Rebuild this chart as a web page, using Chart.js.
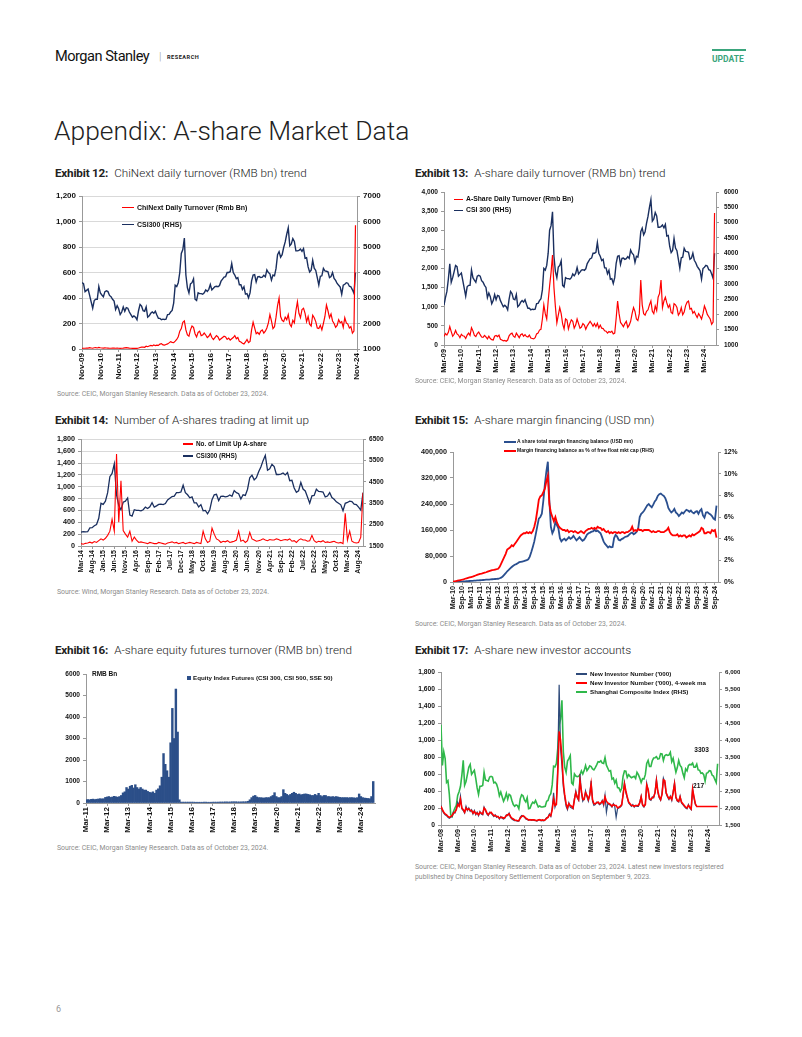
<!DOCTYPE html>
<html><head><meta charset="utf-8">
<script src="https://cdn.jsdelivr.net/npm/chart.js@4.4.1/dist/chart.umd.min.js"></script>
<style>
body{margin:0;background:#fff;width:802px;height:1037px;position:relative;overflow:hidden;font-family:Roboto,'Liberation Sans',sans-serif;}
.t{position:absolute;white-space:nowrap;line-height:1;}
canvas{position:absolute;}
.ex{font-size:11.7px;color:#222;}
.ex b{font-weight:700;letter-spacing:-0.2px;}
.ex span{font-weight:300;margin-left:6px;}
.src{font-size:6.9px;color:#8c8c8c;font-weight:400;}
.lg{position:absolute;white-space:nowrap;font-family:'Liberation Sans',Arial,sans-serif;font-weight:bold;color:#111;display:flex;align-items:center;line-height:1;}
.lg i{display:inline-block;margin-right:3px;}
</style></head>
<body>
<div class="t" style="left:55px;top:49px;font-size:14.6px;color:#111;letter-spacing:-0.5px;">Morgan Stanley</div>
<div class="t" style="left:159px;top:51px;font-size:11px;color:#999;font-weight:300;">|</div>
<div class="t" style="left:167px;top:55px;font-size:5.6px;color:#222;font-weight:700;letter-spacing:0.5px;">RESEARCH</div>
<div style="position:absolute;left:712px;top:49px;width:34px;height:2px;background:#3aa57c;"></div>
<div class="t" style="left:712px;top:55px;font-size:8.5px;color:#3aa57c;font-weight:700;">UPDATE</div>
<div class="t" style="left:54px;top:118px;font-size:26.4px;color:#222;font-weight:300;">Appendix: A-share Market Data</div>

<div class="t ex" style="left:55px;top:168px;"><b>Exhibit 12:</b><span>ChiNext daily turnover (RMB bn) trend</span></div>
<div class="t ex" style="left:415px;top:168px;"><b>Exhibit 13:</b><span>A-share daily turnover (RMB bn) trend</span></div>
<div class="t ex" style="left:55px;top:415px;"><b>Exhibit 14:</b><span>Number of A-shares trading at limit up</span></div>
<div class="t ex" style="left:415px;top:415px;"><b>Exhibit 15:</b><span>A-share margin financing (USD mn)</span></div>
<div class="t ex" style="left:55px;top:645px;"><b>Exhibit 16:</b><span>A-share equity futures turnover (RMB bn) trend</span></div>
<div class="t ex" style="left:415px;top:645px;"><b>Exhibit 17:</b><span>A-share new investor accounts</span></div>

<canvas id="c12" width="340" height="200" style="left:50px;top:185px;"></canvas>
<canvas id="c13" width="330" height="200" style="left:410px;top:183px;"></canvas>
<canvas id="c14" width="340" height="150" style="left:50px;top:432px;"></canvas>
<canvas id="c15" width="330" height="180" style="left:410px;top:436px;"></canvas>
<canvas id="c16" width="340" height="175" style="left:50px;top:665px;"></canvas>
<canvas id="c17" width="330" height="200" style="left:410px;top:662px;"></canvas>

<div class="lg" style="left:122px;top:204px;font-size:7px;"><i style="width:12px;height:1.5px;background:#ff0000"></i>ChiNext Daily Turnover (Rmb Bn)</div>
<div class="lg" style="left:122px;top:221px;font-size:7px;"><i style="width:12px;height:1.5px;background:#1a2f5f"></i>CSI300 (RHS)</div>
<div class="lg" style="left:454px;top:196px;font-size:6.8px;"><i style="width:9px;height:1.5px;background:#ff0000"></i>A-Share Daily Turnover (Rmb Bn)</div>
<div class="lg" style="left:454px;top:207px;font-size:6.8px;"><i style="width:9px;height:1.5px;background:#1a2f5f"></i>CSI 300 (RHS)</div>
<div class="lg" style="left:183px;top:441px;font-size:6.4px;"><i style="width:10px;height:1.5px;background:#ff0000"></i>No. of Limit Up A-share</div>
<div class="lg" style="left:183px;top:453px;font-size:6.4px;"><i style="width:10px;height:1.5px;background:#1a2f5f"></i>CSI300 (RHS)</div>
<div class="lg" style="left:504px;top:439px;font-size:5px;"><i style="width:12px;height:2px;background:#2a4f8f;margin-right:1px"></i>A share total margin financing balance (USD mn)</div>
<div class="lg" style="left:504px;top:448px;font-size:5px;"><i style="width:12px;height:2px;background:#ff0000;margin-right:1px"></i>Margin financing balance as % of free float mkt cap (RHS)</div>
<div class="t" style="left:92px;top:671px;font-size:6.5px;font-weight:bold;font-family:'Liberation Sans',Arial,sans-serif;color:#111;">RMB Bn</div>
<div class="lg" style="left:187px;top:675px;font-size:6.2px;"><i style="width:4px;height:4px;background:#2c4f89;margin-right:2px"></i>Equity Index Futures (CSI 300, CSI 500, SSE 50)</div>
<div class="lg" style="left:576px;top:671px;font-size:6.2px;"><i style="width:11px;height:1.5px;background:#2e4a7a"></i>New Investor Number ('000)</div>
<div class="lg" style="left:576px;top:680px;font-size:6.2px;"><i style="width:11px;height:2px;background:#ff0000"></i>New Investor Number ('000), 4-week ma</div>
<div class="lg" style="left:576px;top:689px;font-size:6.2px;"><i style="width:11px;height:2px;background:#2fb84a"></i>Shanghai Composite Index (RHS)</div>

<div class="t src" style="left:57px;top:391px;">Source: CEIC, Morgan Stanley Research. Data as of October 23, 2024.</div>
<div class="t src" style="left:415px;top:378px;">Source: CEIC, Morgan Stanley Research. Data as of October 23, 2024.</div>
<div class="t src" style="left:57px;top:589px;">Source: Wind, Morgan Stanley Research. Data as of October 23, 2024.</div>
<div class="t src" style="left:415px;top:621px;">Source: CEIC, Morgan Stanley Research. Data as of October 23, 2024.</div>
<div class="t src" style="left:57px;top:845px;">Source: CEIC, Morgan Stanley Research. Data as of October 23, 2024.</div>
<div class="t src" style="left:415px;top:862px;line-height:1.45;">Source: CEIC, Morgan Stanley Research. Data as of October 23, 2024. Latest new investors registered<br>published by China Depository Settlement Corporation on September 9, 2023.</div>
<div class="t" style="left:56px;top:1005px;font-size:9px;color:#999;">6</div>

<script>
// ---------- DATA ----------
// CSI300 monthly, from Mar-09 to Oct-24
const csi300Start = 'Mar-09';
const csi300 = [
2300,2550,2750,3150,3650,3050,3200,3400,3600,3560,
3250,3300,3350,3100,2850,2600,2900,2950,2950,3450,3200,3120,
3050,3250,3280,3250,3100,3050,2950,2880,2550,2700,2580,2350,
2450,2650,2480,2620,2600,2450,2350,2250,2300,2250,2150,2500,
2750,2680,2500,2480,2650,2250,2300,2400,2450,2400,2480,2330,
2200,2200,2150,2170,2160,2170,2350,2360,2450,2510,2800,3500,
3450,3600,4000,4750,4900,5350,3900,3400,3200,3550,3600,3750,
2950,2900,3200,3170,3170,3150,3200,3320,3260,3340,3530,3320,
3380,3450,3460,3440,3490,3660,3740,3820,3840,4000,4000,4030,
4350,4000,3900,3760,3800,3520,3520,3330,3440,3150,3170,3010,
3200,3670,3900,3920,3630,3830,3840,3800,3820,3890,3830,4100,
4000,3950,3700,3900,3870,4160,4700,4820,4600,4700,4980,5200,
5500,5750,5050,5120,5330,5220,4850,4850,4870,4920,4830,4940,
4560,4580,4220,4020,4090,4480,4170,4080,3800,3510,3850,3870,
4160,4060,4050,4030,3800,3840,4000,3770,3690,3570,3500,3430,
3150,3500,3540,3600,3580,3460,3440,3320,3180,4000];

// Exhibit 12: ChiNext daily turnover (Rmb bn), monthly from Nov-09
const chinextStart = 'Nov-09';
const chinextTurnover = [
5,6,
6,8,7,10,8,6,10,11,8,13,10,8,
7,9,8,7,6,6,7,8,6,7,6,5,
6,7,9,10,9,7,6,5,6,5,5,8,
12,15,14,13,22,18,24,28,24,32,26,30,
28,38,42,32,30,35,40,48,58,52,50,62,
75,95,140,160,210,220,150,110,100,150,180,170,
120,95,130,140,105,110,125,110,90,100,120,90,
75,90,105,95,70,80,90,100,95,75,85,70,
80,90,105,80,90,60,55,45,40,55,75,50,
60,150,210,165,120,130,115,140,150,125,140,165,
205,270,220,160,175,250,340,400,255,225,215,250,
230,270,195,175,225,205,300,370,280,245,310,320,
280,215,255,195,180,265,245,215,165,160,185,150,
200,255,345,300,245,275,220,200,170,185,230,205,
215,170,245,205,195,165,175,125,140,970];
const ex12Ticks = ['Nov-09','Nov-10','Nov-11','Nov-12','Nov-13','Nov-14','Nov-15','Nov-16','Nov-17','Nov-18','Nov-19','Nov-20','Nov-21','Nov-22','Nov-23','Nov-24'];

// Exhibit 13: A-share daily turnover (Rmb bn), monthly from Mar-09
const ashareStart = 'Mar-09';
const ashareTurnover = [
220,300,260,330,480,350,230,280,380,290,
260,190,280,240,230,170,260,310,250,450,370,250,
220,300,340,270,210,200,250,210,160,230,170,140,
130,230,250,220,260,150,130,110,120,100,130,240,
290,310,230,200,310,250,190,270,290,230,270,220,
210,260,180,170,160,190,290,310,390,410,680,1050,
820,680,1150,1550,1900,2350,1500,1000,580,780,980,820,
550,420,680,650,420,560,660,620,440,520,680,560,
440,470,560,520,410,500,560,620,560,490,560,480,
570,440,520,440,430,370,360,310,350,330,360,290,
310,700,1150,820,590,540,480,560,620,460,520,620,
820,980,880,680,640,820,1700,1050,820,780,880,920,
1050,1150,880,820,1020,900,1250,1350,1700,980,1150,1250,
1100,980,1050,850,820,1080,1050,980,780,840,980,790,
860,1030,1120,1150,940,960,830,880,790,720,820,760,
680,820,1020,920,800,740,680,540,600,3450];
const ex13Ticks = ['Mar-09','Mar-10','Mar-11','Mar-12','Mar-13','Mar-14','Mar-15','Mar-16','Mar-17','Mar-18','Mar-19','Mar-20','Mar-21','Mar-22','Mar-23','Mar-24'];

// Exhibit 14: number of limit-up A-shares, monthly from Mar-14
const limitUpStart = 'Mar-14';
const limitUp = [
40,30,45,50,65,50,75,60,90,120,
100,130,180,250,450,250,1550,400,1100,260,200,150,
250,80,150,100,60,70,60,50,40,60,50,40,
40,60,50,40,30,50,60,70,50,60,40,50,
60,40,50,60,50,40,60,50,40,250,120,60,
80,300,200,120,100,60,80,70,90,60,70,80,
100,250,80,100,60,90,230,120,100,80,90,100,
120,100,90,110,100,100,120,110,90,100,110,100,
120,80,90,60,100,120,100,100,80,90,180,90,
60,80,70,90,60,70,60,70,80,60,50,60,
40,550,100,250,80,60,50,60,150,900];
const ex14Ticks = ['Mar-14','Aug-14','Jan-15','Jun-15','Nov-15','Apr-16','Sep-16','Feb-17','Jul-17','Dec-17','May-18','Oct-18','Mar-19','Aug-19','Jan-20','Jun-20','Nov-20','Apr-21','Sep-21','Feb-22','Jul-22','Dec-22','May-23','Oct-23','Mar-24','Aug-24'];

// Exhibit 15: margin financing, monthly from Mar-10
const marginStart = 'Mar-10';
const marginBalance = [
50,200,400,600,800,1000,1300,1600,2000,2400,
2800,3100,3400,3700,4000,4300,4700,5000,5400,5800,6200,6600,
7000,7300,7600,8000,8400,8800,9200,9600,10000,11500,13500,17000,
22000,27000,33000,37000,42000,46000,50000,53000,55000,58000,61000,62000,
63000,64000,66000,67000,70000,78000,92000,108000,125000,148000,172000,195000,
200000,210000,250000,300000,340000,370000,250000,170000,150000,160000,185000,175000,
165000,135000,125000,130000,133000,128000,133000,138000,133000,136000,142000,135000,
128000,133000,138000,132000,127000,130000,137000,146000,150000,152000,155000,156000,
160000,156000,158000,154000,150000,138000,125000,117000,112000,106000,110000,107000,
108000,135000,145000,140000,130000,128000,132000,134000,138000,140000,141000,146000,
150000,152000,147000,150000,155000,165000,200000,210000,214000,220000,228000,236000,
240000,234000,230000,238000,248000,254000,265000,270000,272000,268000,265000,258000,
245000,228000,220000,214000,218000,225000,214000,210000,203000,208000,214000,211000,
217000,222000,220000,216000,220000,214000,211000,216000,218000,210000,219000,224000,
205000,198000,214000,215000,211000,208000,203000,195000,192000,235000];
const marginPctFreeFloat = [
0.03,0.06,0.09,0.12,0.15,0.18,0.21,0.25,0.3,0.34,
0.38,0.42,0.46,0.5,0.55,0.6,0.65,0.7,0.75,0.78,0.82,0.86,
0.9,0.95,1.0,1.05,1.1,1.12,1.15,1.18,1.22,1.4,1.7,2.0,
2.3,2.6,3.0,3.1,3.2,3.4,3.3,3.5,3.7,3.9,4.1,4.3,
4.4,4.5,4.5,4.6,4.5,4.6,4.5,4.7,5.1,5.7,6.6,7.6,
7.9,8.0,8.3,8.6,9.3,9.8,7.2,6.4,6.0,5.6,6.0,5.5,
5.2,5.0,4.9,4.8,4.8,4.7,4.8,4.6,4.7,4.7,4.6,4.7,
4.6,4.5,4.6,4.7,4.6,4.5,4.7,4.8,4.9,4.9,5.0,4.9,
5.0,4.9,5.1,5.0,5.0,4.8,4.9,4.7,4.6,4.7,4.5,4.6,
4.5,4.6,4.6,4.5,4.6,4.5,4.6,4.6,4.5,4.6,4.6,4.7,
4.8,5.1,4.7,4.8,4.7,4.9,4.8,4.8,4.7,4.8,4.8,4.8,
4.8,4.7,4.6,4.7,4.6,4.6,4.7,4.7,4.6,4.6,4.6,4.7,
4.8,5.0,4.6,4.4,4.3,4.3,4.3,4.4,4.2,4.3,4.2,4.3,
4.3,4.1,4.2,4.3,4.2,4.4,4.3,4.4,4.5,4.6,4.7,5.0,
4.9,4.5,4.5,4.6,4.6,4.5,4.8,4.7,4.8,4.1];
const ex15Ticks = ['Mar-10','Sep-10','Mar-11','Sep-11','Mar-12','Sep-12','Mar-13','Sep-13','Mar-14','Sep-14','Mar-15','Sep-15','Mar-16','Sep-16','Mar-17','Sep-17','Mar-18','Sep-18','Mar-19','Sep-19','Mar-20','Sep-20','Mar-21','Sep-21','Mar-22','Sep-22','Mar-23','Sep-23','Mar-24','Sep-24'];

// Exhibit 16: equity index futures turnover (RMB bn), monthly from Mar-11
const futuresStart = 'Mar-11';
const futuresTurnover = [
150,160,150,170,180,160,175,185,200,190,
200,260,280,300,260,280,310,290,270,300,350,470,
520,720,650,780,820,700,850,720,650,720,650,600,
600,540,500,480,520,450,600,660,800,1200,2300,1800,
1500,1200,2800,4400,3000,5300,3300,150,40,40,40,40,
40,40,40,40,35,35,35,35,35,40,40,35,
35,35,40,40,40,40,45,45,45,50,50,45,
50,55,55,55,50,50,50,55,55,60,80,150,
250,320,350,280,250,250,240,230,250,250,250,300,
350,480,300,250,250,300,620,450,400,350,400,450,
500,450,400,420,380,400,420,420,400,380,350,350,
400,350,450,350,300,350,350,300,300,280,300,280,
300,280,260,250,250,250,250,240,250,250,240,230,
250,420,300,250,230,220,210,200,300,1000];
const ex16Ticks = ['Mar-11','Mar-12','Mar-13','Mar-14','Mar-15','Mar-16','Mar-17','Mar-18','Mar-19','Mar-20','Mar-21','Mar-22','Mar-23','Mar-24'];

// Exhibit 17: new investor accounts ('000) and Shanghai Composite, monthly from Mar-08
const ex17Start = 'Mar-08';
const newInvestors = [
230,170,140,120,110,90,80,90,100,150,
140,190,270,230,340,190,170,140,220,170,200,160,
180,130,170,120,150,110,160,130,120,210,170,130,
110,150,140,120,100,120,90,100,70,100,80,70,
80,120,110,140,90,70,60,50,50,45,45,90,
110,100,95,70,65,55,65,55,60,55,50,45,
55,65,50,55,50,65,85,95,130,100,200,380,
210,260,700,1650,900,700,450,330,220,180,260,210,
200,190,310,400,320,290,600,380,280,310,400,330,
280,360,520,280,230,240,270,260,240,250,290,230,
350,150,250,240,230,210,250,220,90,190,200,210,
230,370,500,380,320,260,240,220,240,210,230,220,
220,270,340,230,210,250,490,400,300,290,330,320,
390,540,380,320,290,370,550,500,370,330,300,340,
290,390,500,320,280,270,340,260,240,220,200,190,
240,200,180,430,320,240,220];
const newInvestorsMA = [
220,180,150,130,120,100,90,100,110,140,
150,180,240,220,300,200,180,150,200,180,190,170,
170,140,160,130,140,120,150,140,130,200,180,140,
120,140,150,130,110,110,100,100,80,90,90,80,
90,110,120,130,100,80,70,60,55,50,50,80,
100,110,100,80,70,60,60,60,60,60,55,50,
60,60,55,60,55,60,80,90,120,110,180,300,
230,240,600,1100,1000,800,500,350,250,200,250,230,
220,200,300,380,330,300,520,400,300,300,380,350,
300,350,480,300,250,250,260,270,250,260,280,250,
330,280,260,250,240,220,240,230,230,200,210,220,
240,350,480,400,330,270,250,230,230,220,230,230,
230,260,330,240,220,240,470,420,310,300,320,330,
380,520,400,330,300,360,530,520,380,340,310,330,
300,380,480,330,290,280,330,270,250,230,210,200,
230,210,190,420,330,250,217,217,217,217,217,217,
217,217,217,217,217,217,217,217,217,217];
const shanghaiComposite = [
4450,3250,3650,3450,2750,2800,2400,1800,1750,1900,
2000,2080,2370,2480,2630,2960,3400,2670,2780,2990,3200,3280,
2990,3050,3110,2870,2590,2400,2640,2640,2660,3050,2820,2810,
2790,2910,2930,2910,2740,2760,2700,2570,2360,2470,2330,2200,
2290,2430,2260,2400,2370,2220,2100,2050,2090,2070,1980,2270,
2390,2360,2240,2180,2300,1980,1990,2100,2170,2140,2220,2120,
2030,2060,2030,2030,2040,2050,2200,2220,2360,2420,2680,3230,
3210,3310,3750,4440,4610,5170,3660,3200,3050,3380,3450,3540,
2740,2690,3000,2940,2920,2930,2980,3090,3000,3100,3250,3100,
3160,3240,3220,3150,3120,3190,3270,3360,3350,3390,3320,3310,
3480,3260,3170,3080,3100,2850,2880,2730,2820,2600,2590,2490,
2580,2940,3090,3080,2900,2980,2930,2890,2910,2930,2870,3050,
2980,2880,2750,2860,2850,2980,3310,3400,3220,3220,3390,3470,
3480,3510,3440,3450,3600,3590,3400,3540,3570,3550,3560,3640,
3360,3460,3250,3050,3190,3400,3250,3200,3020,2890,3150,3090,
3250,3280,3270,3320,3200,3200,3290,3120,3110,3020,3030,2980,
2790,3020,3040,3100,3090,2970,2940,2840,2750,3303];
const ex17Ticks = ['Mar-08','Mar-09','Mar-10','Mar-11','Mar-12','Mar-13','Mar-14','Mar-15','Mar-16','Mar-17','Mar-18','Mar-19','Mar-20','Mar-21','Mar-22','Mar-23','Mar-24'];

// ---------- HELPERS ----------
const MON=['Jan','Feb','Mar','Apr','May','Jun','Jul','Aug','Sep','Oct','Nov','Dec'];
function parseLabel(s){const p=s.split('-');return parseInt(p[1],10)*12+MON.indexOf(p[0]);}
function mlabel(v){const y=Math.floor(v/12), m=((v%12)+12)%12;return MON[m]+'-'+String(y%100).padStart(2,'0');}
function pts(start,arr){const s=parseLabel(start);return arr.map((v,i)=>({x:s+i,y:v}));}
const FONT="'Liberation Sans', Arial, sans-serif";
Chart.defaults.font.family=FONT;
Chart.defaults.color='#111';
const NAVY='#1a2f5f', RED='#ff0000';

function xAxis(o){
  const pos=o.labels.map(parseLabel);
  return {type:'linear',position:'bottom',min:o.min,max:o.max,offset:false,
    afterBuildTicks:s=>{s.ticks=pos.map(v=>({value:v}));},
    afterFit:s=>{s.height=o.height;},
    ticks:{autoSkip:false,maxRotation:90,minRotation:90,padding:1,font:{size:o.fs,weight:'bold'},color:'#111',callback:v=>mlabel(v)},
    grid:{display:true,drawOnChartArea:false,offset:false,tickLength:3,color:'#999'},
    border:{display:true,color:'#999',width:1}};
}
function yAxis(o){
  return {type:'linear',position:o.pos,min:o.min,max:o.max,
    afterFit:s=>{s.width=o.width;},
    ticks:{stepSize:o.step,maxTicksLimit:30,font:{size:o.fs,weight:'bold'},color:'#111',padding:o.pad||3,callback:o.fmt},
    grid:{display:true,drawOnChartArea:!!o.grid,color:'#d9d9d9',tickLength:3,tickColor:'#999'},
    border:{display:true,color:'#999',width:1}};
}
const comma=v=>v.toLocaleString('en-US');
const plain=v=>String(v);
function line(data,color,width,axis){return {data,borderColor:color,borderWidth:width,pointRadius:0,fill:false,tension:0,yAxisID:axis};}
function baseOpts(pad,scales){return {responsive:false,animation:false,devicePixelRatio:1,
  layout:{padding:pad},plugins:{legend:{display:false},tooltip:{enabled:false}},
  parsing:true,normalized:true,scales};}

// ---------- Exhibit 12 ----------
new Chart(document.getElementById('c12'),{type:'line',
  data:{datasets:[line(pts(chinextStart,chinextTurnover),RED,1.2,'y'),
                  line(pts(csi300Start,csi300).filter(p=>p.x>=parseLabel(chinextStart)),NAVY,1.4,'y2')]},
  options:baseOpts({top:11,right:0,left:0,bottom:0},{
    x:xAxis({labels:ex12Ticks,min:parseLabel('Nov-09'),max:parseLabel('Nov-24'),height:36,fs:8}),
    y:yAxis({pos:'left',min:0,max:1200,step:200,width:32,fs:8,fmt:comma,grid:true}),
    y2:yAxis({pos:'right',min:1000,max:7000,step:1000,width:33,fs:8,fmt:plain})})});

// ---------- Exhibit 13 ----------
new Chart(document.getElementById('c13'),{type:'line',
  data:{datasets:[line(pts(ashareStart,ashareTurnover),RED,1.2,'y'),
                  line(pts(csi300Start,csi300),NAVY,1.4,'y2')]},
  options:baseOpts({top:9,right:0,left:0,bottom:0},{
    x:xAxis({labels:ex13Ticks,min:parseLabel('Mar-09'),max:parseLabel('Nov-24'),height:38,fs:7.4}),
    y:yAxis({pos:'left',min:0,max:4000,step:500,width:34,fs:6.6,fmt:comma}),
    y2:yAxis({pos:'right',min:1000,max:6000,step:500,width:24,fs:6.4,fmt:plain,pad:5})})});

// ---------- Exhibit 14 ----------
new Chart(document.getElementById('c14'),{type:'line',
  data:{datasets:[line(pts(limitUpStart,limitUp),RED,1.1,'y'),
                  line(pts(csi300Start,csi300).filter(p=>p.x>=parseLabel(limitUpStart)),NAVY,1.3,'y2')]},
  options:baseOpts({top:7,right:0,left:0,bottom:0},{
    x:xAxis({labels:ex14Ticks,min:parseLabel('Mar-14'),max:parseLabel('Oct-24'),height:36,fs:7}),
    y:yAxis({pos:'left',min:0,max:1800,step:200,width:31,fs:7.2,fmt:comma,grid:true}),
    y2:yAxis({pos:'right',min:1500,max:6500,step:500,width:27,fs:6.6,fmt:plain})})});

// ---------- Exhibit 15 ----------
new Chart(document.getElementById('c15'),{type:'line',
  data:{datasets:[line(pts(marginStart,marginPctFreeFloat),RED,1.8,'y2'),
                  line(pts(marginStart,marginBalance),'#2a4f8f',1.8,'y')]},
  options:baseOpts({top:16,right:0,left:0,bottom:0},{
    x:xAxis({labels:ex15Ticks,min:parseLabel('Mar-10'),max:parseLabel('Nov-24'),height:34,fs:7.2}),
    y:yAxis({pos:'left',min:0,max:400000,step:80000,width:43,fs:7.2,fmt:comma}),
    y2:yAxis({pos:'right',min:0,max:12,step:2,width:22,fs:6.8,fmt:v=>v+'%'})})});

// ---------- Exhibit 16 ----------
new Chart(document.getElementById('c16'),{type:'bar',
  data:{datasets:[{data:pts(futuresStart,futuresTurnover),backgroundColor:'#2c4f89',borderWidth:0,barPercentage:1,categoryPercentage:1}]},
  options:baseOpts({top:9,right:15,left:0,bottom:0},{
    x:xAxis({labels:ex16Ticks,min:parseLabel('Mar-11'),max:parseLabel('Nov-24'),height:37,fs:8}),
    y:yAxis({pos:'left',min:0,max:6000,step:1000,width:36,fs:6.6,fmt:plain})})});

// ---------- Exhibit 17 ----------
const annot={id:'annot',afterDatasetsDraw(chart){
  const ctx=chart.ctx;ctx.save();ctx.font='bold 6.6px '+FONT;ctx.fillStyle='#111';ctx.textAlign='center';ctx.textBaseline='middle';
  const g=chart.getDatasetMeta(2).data, r=chart.getDatasetMeta(0).data;
  const gl=g[g.length-1], rl=r[r.length-1];
  ctx.fillText(String(shanghaiComposite[shanghaiComposite.length-1]),gl.x-16,gl.y-14);
  ctx.fillText(String(newInvestorsMA[newInvestorsMA.length-1]),rl.x-19,rl.y-20);
  ctx.restore();}};
new Chart(document.getElementById('c17'),{type:'line',
  data:{datasets:[line(pts(ex17Start,newInvestorsMA),RED,1.6,'y'),
                  line(pts(ex17Start,newInvestors),'#2e4a7a',1.2,'y'),
                  line(pts(ex17Start,shanghaiComposite),'#2fb84a',1.6,'y2')]},
  options:baseOpts({top:10,right:0,left:0,bottom:0},{
    x:xAxis({labels:ex17Ticks,min:parseLabel('Mar-08'),max:parseLabel('Nov-24'),height:37,fs:7.2}),
    y:yAxis({pos:'left',min:0,max:1800,step:200,width:31,fs:6.7,fmt:comma}),
    y2:yAxis({pos:'right',min:1500,max:6000,step:500,width:21,fs:6.2,fmt:comma})}),
  plugins:[annot]});
</script>
</body></html>
